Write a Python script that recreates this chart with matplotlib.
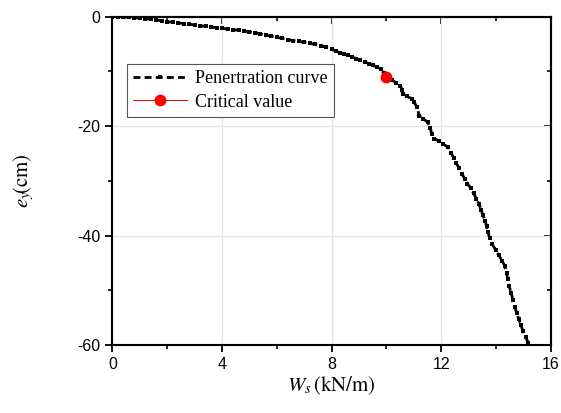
import matplotlib
matplotlib.use("Agg")
import matplotlib.pyplot as plt
from matplotlib.ticker import MultipleLocator

plt.rcParams["mathtext.fontset"] = "stix"
plt.rcParams["axes.unicode_minus"] = False

# Penetration curve (W_s in kN/m, e_y in cm)
ws = [0.0, 0.2, 0.4, 0.6, 0.8, 1.0, 1.2, 1.4, 1.6, 1.8, 2.0, 2.2, 2.4, 2.6, 2.8,
      3.0, 3.2, 3.4, 3.6, 3.8, 4.0, 4.2, 4.4, 4.6, 4.8, 5.0, 5.2, 5.4, 5.6, 5.8,
      6.0, 6.2, 6.4, 6.6, 6.8, 7.0, 7.2, 7.4, 7.6, 7.8, 8.0, 8.15, 8.3, 8.45,
      8.6, 8.75, 8.9, 9.05, 9.2, 9.35, 9.5, 9.65, 9.8, 9.9, 10.05, 10.2, 10.35,
      10.5, 10.58, 10.62, 10.75, 10.92, 11.02, 11.1, 11.2, 11.35, 11.5, 11.6,
      11.65, 11.75, 11.9, 12.05, 12.25, 12.35, 12.45, 12.55, 12.65, 12.75, 12.85,
      12.95, 13.07, 13.18, 13.28, 13.38, 13.45, 13.52, 13.6, 13.65, 13.7, 13.76,
      13.85, 13.98, 14.1, 14.22, 14.32, 14.38, 14.42, 14.48, 14.55, 14.62, 14.68,
      14.75, 14.82, 14.9, 14.98, 15.08, 15.17, 15.25]
ey = [0.0, -0.05, -0.1, -0.15, -0.22, -0.3, -0.4, -0.5, -0.65, -0.8, -0.95, -1.05,
      -1.18, -1.3, -1.42, -1.55, -1.68, -1.8, -1.92, -2.05, -2.17, -2.3, -2.4,
      -2.5, -2.65, -2.8, -2.95, -3.15, -3.4, -3.6, -3.8, -4.0, -4.2, -4.4, -4.55,
      -4.7, -4.9, -5.1, -5.35, -5.6, -6.0, -6.3, -6.6, -6.85, -7.1, -7.4, -7.7,
      -8.0, -8.3, -8.6, -8.9, -9.2, -9.6, -10.4, -11.0, -11.6, -12.1, -12.7,
      -13.4, -14.1, -14.6, -15.0, -15.7, -16.5, -18.1, -18.7, -19.3, -20.3,
      -21.5, -22.3, -22.7, -23.2, -23.9, -24.9, -25.8, -26.8, -27.7, -28.7,
      -29.6, -30.5, -31.3, -32.3, -33.3, -34.3, -35.3, -36.3, -37.3, -38.3,
      -39.3, -40.4, -41.5, -42.6, -43.6, -44.6, -45.6, -46.8, -48.0, -49.3,
      -50.5, -51.8, -53.0, -54.1, -55.2, -56.3, -57.4, -58.5, -59.6, -60.6]

crit_ws = [10.0]
crit_ey = [-11.0]

xticks = [0, 4, 8, 12, 16]
yticks = [0, -20, -40, -60]

fig = plt.figure(figsize=(5.61, 4.13), dpi=100)
ax = fig.add_axes([0.2005, 0.1646, 0.7815, 0.7954])

ax.plot(ws, ey, color="black", linestyle=(0, (2.5, 1.5)), linewidth=2.0,
        marker="s", markersize=3.2, markeredgewidth=0, label="Penertration curve",
        zorder=3, clip_on=True)
ax.plot(crit_ws, crit_ey, color="red", linestyle="-", linewidth=0.7, marker="o",
        markersize=7.5, label="Critical value", zorder=4)

ax.set_xlim(0, 16)
ax.set_ylim(-60, 0)
ax.set_xticks(xticks)
ax.set_yticks(yticks)
ax.xaxis.set_minor_locator(MultipleLocator(2))
ax.yaxis.set_minor_locator(MultipleLocator(10))
ax.grid(True, which="major", color="#e6e6e6", linewidth=1.0, zorder=0)
ax.set_axisbelow(True)

for s in ax.spines.values():
    s.set_linewidth(1.5)
    s.set_color("black")

tfont = "Liberation Sans"
ax.tick_params(which="major", direction="out", length=5, width=1.3,
               labelsize=11.5, top=False, right=False)
ax.tick_params(which="minor", direction="out", length=3, width=1.2,
               top=False, right=False)
for lab in ax.get_xticklabels() + ax.get_yticklabels():
    lab.set_fontfamily(tfont)

# inward ticks on top and right via secondary axes
axt = ax.secondary_xaxis("top")
axt.set_xticks(xticks)
axt.xaxis.set_minor_locator(MultipleLocator(2))
axt.tick_params(which="major", direction="in", length=5, width=1.3, labeltop=False)
axt.tick_params(which="minor", direction="in", length=3, width=1.2)
axt.spines["top"].set_linewidth(1.5)
axr = ax.secondary_yaxis("right")
axr.set_yticks(yticks)
axr.yaxis.set_minor_locator(MultipleLocator(10))
axr.tick_params(which="major", direction="in", length=5, width=1.3, labelright=False)
axr.tick_params(which="minor", direction="in", length=3, width=1.2)
axr.spines["right"].set_linewidth(1.5)

ax.set_xlabel(r"$W_s\,\left(\mathrm{kN/m}\right)$", fontsize=15, labelpad=2)
ax.set_ylabel(r"$e_y\!\left(\mathrm{cm}\right)$", fontsize=15, labelpad=30)

leg = ax.legend(loc="upper left", bbox_to_anchor=(0.033, 0.855), frameon=True,
                fancybox=False, edgecolor="#555555", framealpha=1,
                prop={"family": "Liberation Serif", "size": 13},
                handlelength=3.0, handletextpad=0.4, borderpad=0.35,
                labelspacing=0.35, borderaxespad=0)
leg.get_frame().set_linewidth(0.8)

fig.savefig("out.png", dpi=100)
